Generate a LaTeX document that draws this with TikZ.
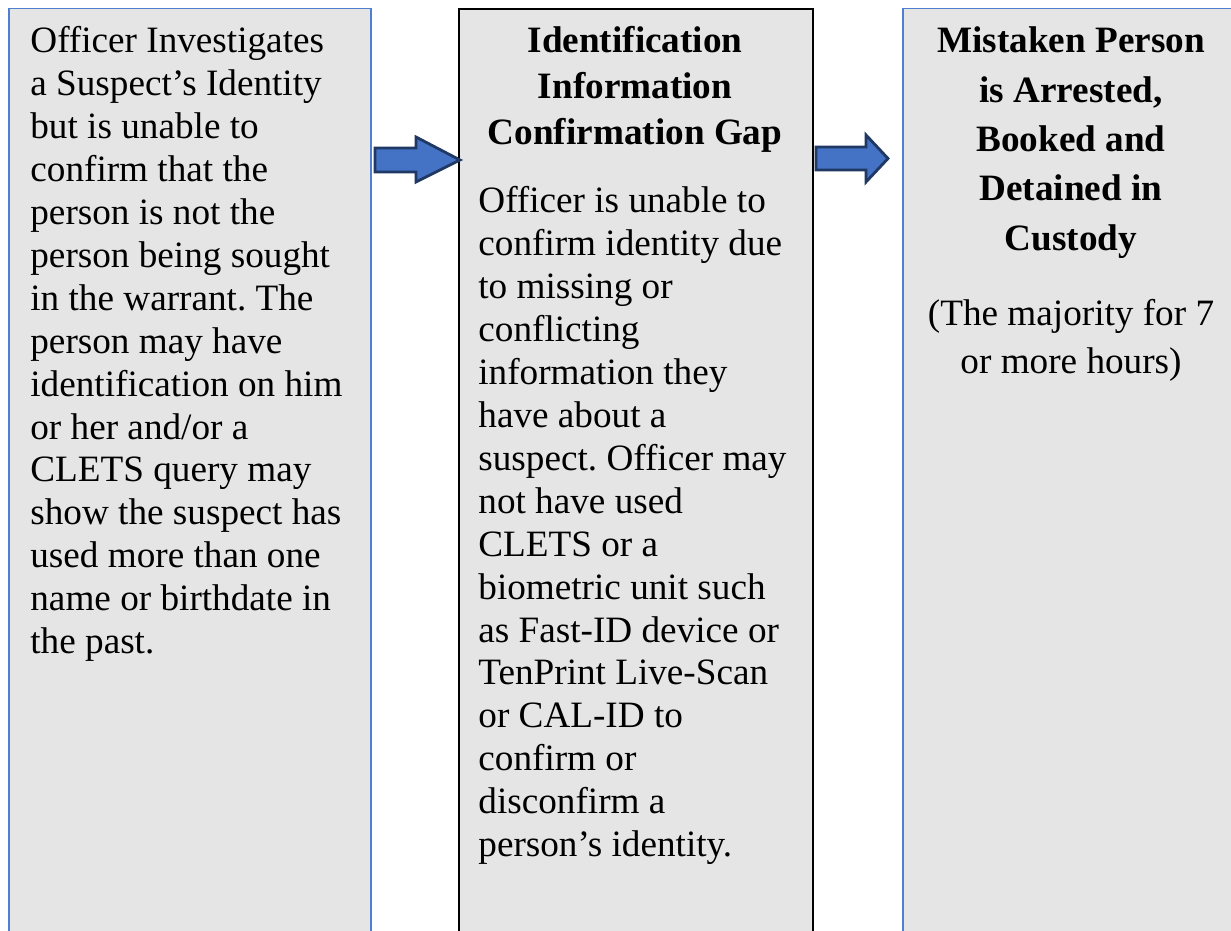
\documentclass[tikz,border=0pt]{standalone}
\usepackage{fontspec}
\setmainfont{Liberation Serif}
\usepackage{xcolor}
\usetikzlibrary{positioning}
\frenchspacing
\definecolor{panelgrey}{HTML}{E5E5E5}
\definecolor{panelblue}{HTML}{4F7FD0}
\definecolor{arrowfill}{HTML}{4472C4}
\definecolor{arrowedge}{HTML}{1F3864}
\tikzstyle{panel}      = [rectangle, anchor=north west, fill=panelgrey,
    minimum height=480pt, inner sep=0pt]
\tikzstyle{bluepanel}  = [panel, draw=panelblue, line width=0.75pt]
\tikzstyle{blackpanel} = [panel, draw=black, line width=1pt]
\tikzstyle{bodytext}   = [anchor=base west, inner sep=0pt,
    font=\fontsize{18.6}{21.45}\selectfont]
\tikzstyle{headtext}   = [anchor=base, inner sep=0pt,
    font=\fontsize{18.6}{23}\selectfont\bfseries]
\tikzstyle{blockarrow} = [fill=arrowfill, draw=arrowedge, line width=1.4pt, line join=miter]

\begin{document}
\begin{tikzpicture}[x=0.5pt, y=-0.5pt]
  \clip (0,0) rectangle (1231,931);
  \node[bluepanel, minimum width=181pt]  (investigate) at (8,8) {};
  \node[blackpanel, minimum width=177pt] (gap)         at (458,8) {};
  \node[bluepanel, minimum width=170pt]  (arrest)      at (902,8) {};

  \node[bodytext] (investigatetxt) at (30,53) {\parbox[t]{175pt}{\raggedright
    Officer Investigates\\ a Suspect’s Identity\\ but is unable to\\
    confirm that the\\ person is not the\\ person being sought\\
    in the warrant. The\\ person may have\\ identification on him\\
    or her and/or a\\ CLETS query may\\ show the suspect has\\
    used more than one\\ name or birthdate in\\ the past.}};

  \node[headtext] (gaphead) at (635,53) {\parbox[t]{175pt}{\centering
    Identification\\ Information\\ Confirmation Gap}};
  \node[bodytext] (gaptxt) at (478,213) {\parbox[t]{170pt}{\raggedright
    Officer is unable to\\ confirm identity due\\ to missing or\\
    conflicting\\ information they\\ have about a\\
    suspect. Officer may\\ not have used\\ CLETS or a\\
    biometric unit such\\ as Fast-ID device or\\ TenPrint Live-Scan\\
    or CAL-ID to\\ confirm or\\ disconfirm a\\ person’s identity.}};

  \node[headtext, font=\fontsize{18.6}{24.65}\selectfont\bfseries] (arresthead) at (1071,53)
    {\parbox[t]{170pt}{\centering
    Mistaken Person\\ is Arrested,\\ Booked and\\ Detained in\\ Custody}};
  \node[headtext, font=\fontsize{18.6}{24}\selectfont] (arresttxt) at (1071,325)
    {\parbox[t]{170pt}{\centering (The majority for 7\\ or more hours)}};

  % block arrows
  \draw[blockarrow] (375,148) -- (416,148) -- (416,137) -- (460,160)
    -- (416,182) -- (416,172) -- (375,172) -- cycle;
  \draw[blockarrow] (816,147) -- (866,147) -- (866,135) -- (888,158.5)
    -- (866,182) -- (866,170) -- (816,170) -- cycle;
\end{tikzpicture}
\end{document}
